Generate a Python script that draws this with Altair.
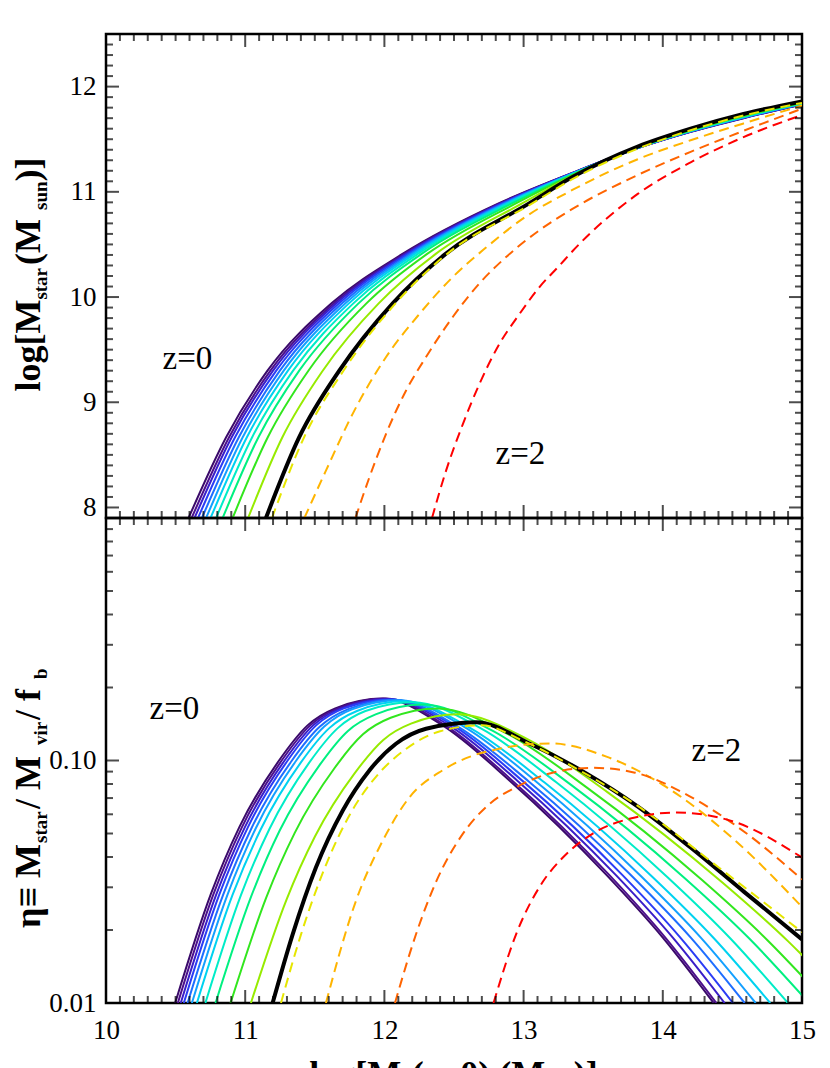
import altair as alt
import pandas as pd

FONT = "Liberation Serif, Times New Roman, serif"

# ---------------- series names / colours (rainbow tracks, black reference, dashed high-z tracks)
SOLID_NAMES = ["s00", "s01", "s02", "s03", "s04", "s05", "s06", "s07", "s08", "s09", "s10"]
SOLID_COLORS = ["#3a0a6a", "#4c0f8c", "#3a1ec8", "#2b3cf5", "#1e6eff", "#14a0ff",
                "#00d2f0", "#00ecc8", "#00f080", "#32e61e", "#96eb00"]
DASHED_NAMES = ["d1", "d2", "d3", "d4"]
DASHED_COLORS = ["#e6e600", "#ffb400", "#ff6400", "#ff0000"]

# ---------------- upper panel: log M_star vs log M_h(z=0)
TOP_LEVELS_Y = [7.9, 8.67, 9.3, 9.94, 10.41, 10.89]
TOP_SOLID_X_AT_LEVELS = [
    [10.593, 10.864, 11.160, 11.620, 12.130, 12.820],
    [10.615, 10.885, 11.181, 11.638, 12.142, 12.829],
    [10.636, 10.904, 11.200, 11.654, 12.154, 12.837],
    [10.661, 10.928, 11.223, 11.674, 12.168, 12.847],
    [10.689, 10.955, 11.249, 11.696, 12.184, 12.858],
    [10.719, 10.983, 11.277, 11.720, 12.200, 12.870],
    [10.751, 11.013, 11.307, 11.745, 12.218, 12.882],
    [10.791, 11.051, 11.344, 11.777, 12.240, 12.898],
    [10.838, 11.096, 11.388, 11.814, 12.267, 12.917],
    [10.910, 11.163, 11.454, 11.871, 12.307, 12.945],
    [11.021, 11.268, 11.557, 11.959, 12.369, 12.989],
]
TOP_RIGHT_X = [13.35, 13.82, 14.2, 14.58, 15.0]
TOP_SOLID_Y_AT_RIGHT = [
    [11.180, 11.415, 11.570, 11.700, 11.830],
    [11.179, 11.416, 11.571, 11.702, 11.831],
    [11.177, 11.416, 11.572, 11.703, 11.832],
    [11.175, 11.417, 11.574, 11.705, 11.834],
    [11.174, 11.418, 11.575, 11.707, 11.835],
    [11.172, 11.418, 11.577, 11.709, 11.837],
    [11.169, 11.419, 11.579, 11.711, 11.839],
    [11.167, 11.420, 11.581, 11.714, 11.841],
    [11.164, 11.422, 11.583, 11.718, 11.843],
    [11.159, 11.424, 11.587, 11.723, 11.847],
    [11.152, 11.427, 11.593, 11.731, 11.853],
]
TOP_BLACK_X = [11.149, 11.389, 11.676, 12.06, 12.44, 13.04, 13.354, 13.82, 14.2, 14.58, 15.0]
TOP_BLACK_Y = [7.9, 8.67, 9.3, 9.94, 10.41, 10.89, 11.143, 11.43, 11.60, 11.74, 11.86]
TOP_DASHED_X = [
    [11.192, 11.424, 11.706, 12.08, 12.45, 13.05, 13.35, 13.82, 14.2, 14.58, 15.0],
    [11.425, 11.58, 11.772, 12.012, 12.252, 12.491, 12.73, 13.0, 13.354, 13.82, 14.2, 14.58, 15.0],
    [11.792, 11.892, 12.012, 12.155, 12.299, 12.491, 12.683, 12.874, 13.114, 13.354, 13.82, 14.2, 14.58, 15.0],
    [12.342, 12.443, 12.563, 12.683, 12.827, 12.971, 13.114, 13.258, 13.354, 13.82, 14.2, 14.58, 15.0],
]
TOP_DASHED_Y = [
    [7.9, 8.67, 9.3, 9.94, 10.41, 10.88, 11.12, 11.41, 11.585, 11.725, 11.845],
    [7.9, 8.35, 8.89, 9.43, 9.84, 10.19, 10.47, 10.75, 11.02, 11.31, 11.49, 11.65, 11.82],
    [7.9, 8.286, 8.70, 9.11, 9.43, 9.81, 10.13, 10.38, 10.635, 10.84, 11.16, 11.38, 11.58, 11.79],
    [7.9, 8.35, 8.79, 9.175, 9.556, 9.84, 10.095, 10.30, 10.44, 10.98, 11.28, 11.52, 11.73],
]

# ---------------- lower panel: eta = M_star / M_vir / f_b
BOT_SOLID_X = [
    [10.497, 10.753, 10.957, 11.243, 11.448, 11.647, 11.99, 12.418, 12.90, 13.60, 14.0, 14.365],
    [10.516, 10.772, 10.976, 11.262, 11.467, 11.666, 12.01, 12.437, 12.919, 13.620, 14.018, 14.384],
    [10.537, 10.793, 10.997, 11.283, 11.488, 11.687, 12.03, 12.465, 12.955, 13.667, 14.072, 14.444],
    [10.559, 10.815, 11.019, 11.305, 11.510, 11.709, 12.05, 12.492, 12.990, 13.714, 14.126, 14.504],
    [10.586, 10.842, 11.046, 11.332, 11.537, 11.736, 12.075, 12.527, 13.037, 13.779, 14.201, 14.588],
    [10.617, 10.873, 11.077, 11.363, 11.568, 11.767, 12.11, 12.570, 13.089, 13.844, 14.273, 14.667],
    [10.653, 10.909, 11.113, 11.399, 11.604, 11.803, 12.145, 12.618, 13.151, 13.926, 14.367, 14.772],
    [10.714, 10.970, 11.174, 11.460, 11.665, 11.864, 12.205, 12.690, 13.237, 14.032, 14.484, 14.899],
    [10.787, 11.043, 11.247, 11.533, 11.738, 11.937, 12.28, 12.779, 13.341, 14.158, 14.623, 15.05],
    [10.895, 11.151, 11.355, 11.641, 11.846, 12.045, 12.385, 12.888, 13.455, 14.280, 14.750, 15.18],
    [11.041, 11.297, 11.501, 11.787, 11.992, 12.191, 12.53, 13.034, 13.602, 14.428, 14.899, 15.33],
]
BOT_SOLID_ETA = [
    [0.01, 0.0281, 0.053, 0.1, 0.1396, 0.1641, 0.180, 0.1396, 0.0826, 0.0335, 0.0186, 0.01],
    [0.01, 0.0281, 0.053, 0.1, 0.1396, 0.1641, 0.180, 0.1396, 0.0826, 0.0335, 0.0186, 0.01],
    [0.01, 0.0281, 0.053, 0.1, 0.1396, 0.1641, 0.1795, 0.1396, 0.0826, 0.0335, 0.0186, 0.01],
    [0.01, 0.0281, 0.053, 0.1, 0.1396, 0.1641, 0.1786, 0.1396, 0.0826, 0.0335, 0.0186, 0.01],
    [0.01, 0.028, 0.0527, 0.0993, 0.138, 0.1625, 0.178, 0.138, 0.082, 0.0333, 0.0186, 0.01],
    [0.01, 0.028, 0.0527, 0.0993, 0.138, 0.1625, 0.177, 0.138, 0.082, 0.0333, 0.0186, 0.01],
    [0.01, 0.0279, 0.0522, 0.098, 0.136, 0.160, 0.1755, 0.136, 0.0811, 0.0331, 0.0185, 0.01],
    [0.01, 0.0279, 0.0522, 0.098, 0.136, 0.160, 0.174, 0.136, 0.0811, 0.0331, 0.0185, 0.01],
    [0.01, 0.0275, 0.0513, 0.0955, 0.1324, 0.1549, 0.170, 0.1324, 0.0793, 0.0327, 0.0184, 0.01],
    [0.01, 0.0272, 0.0502, 0.0929, 0.1282, 0.150, 0.164, 0.1285, 0.0773, 0.0322, 0.0182, 0.01],
    [0.01, 0.0267, 0.0486, 0.0887, 0.1216, 0.1419, 0.155, 0.1219, 0.0741, 0.0314, 0.0180, 0.01],
]
BOT_BLACK_X = [11.197, 11.341, 11.508, 11.700, 11.892, 12.083, 12.299, 12.659, 13.061, 13.441, 13.821, 14.202, 14.582, 15.0]
BOT_BLACK_ETA = [0.01, 0.0192, 0.0362, 0.0621, 0.091, 0.1172, 0.1352, 0.1439, 0.1161, 0.0891, 0.0646, 0.0437, 0.0288, 0.0183]
BOT_DASHED_X = [
    [11.257, 11.40, 11.57, 11.76, 11.95, 12.15, 12.40, 12.70, 13.0, 13.4, 13.8, 14.4, 15.0],
    [11.58, 11.796, 11.988, 12.18, 12.419, 12.611, 12.802, 13.0, 13.2, 13.6, 14.0, 14.5, 15.0],
    [12.076, 12.227, 12.371, 12.563, 12.755, 12.946, 13.138, 13.282, 13.5, 13.8, 14.2, 14.6, 15.0],
    [12.784, 12.946, 13.138, 13.282, 13.5, 13.8, 14.1, 14.5, 15.0],
]
BOT_DASHED_ETA = [
    [0.01, 0.0191, 0.0359, 0.061, 0.0871, 0.111, 0.132, 0.1396, 0.1202, 0.0912, 0.0661, 0.0363, 0.0196],
    [0.01, 0.0264, 0.0467, 0.0705, 0.0912, 0.1035, 0.111, 0.116, 0.1175, 0.1035, 0.0794, 0.0479, 0.0249],
    [0.01, 0.0192, 0.0316, 0.0498, 0.0662, 0.0776, 0.0867, 0.091, 0.0933, 0.0891, 0.0708, 0.0501, 0.0323],
    [0.01, 0.0192, 0.0316, 0.0398, 0.0501, 0.0582, 0.061, 0.0562, 0.0398],
]

# ---------------- axis tick positions
X_MAJOR = [10, 11, 12, 13, 14, 15]
X_MINOR = [round(10 + i / 10, 1) for i in range(1, 50) if i % 10]
TOP_Y_MAJOR = [8, 9, 10, 11, 12]
TOP_Y_MINOR = [round(7.9 + i / 10, 1) for i in range(1, 46) if (79 + i) % 10]
BOT_Y_MAJOR = [0.01, 0.1]
BOT_Y_MINOR = [0.02, 0.03, 0.04, 0.05, 0.06, 0.07, 0.08, 0.09, 0.2, 0.3, 0.4, 0.5, 0.6, 0.7, 0.8, 0.9]

W, H_TOP, H_BOT = 696, 484, 485
MAJ, MIN = 26, 14   # tick mark sizes (half is visible inside the frame)


def long_rows(names, xs_list, ys_list):
    rows = []
    for n, xs, ys in zip(names, xs_list, ys_list):
        for x, y in zip(xs, ys):
            rows.append({"s": n, "x": x, "y": y})
    return pd.DataFrame(rows)


top_solid_x = [xs + TOP_RIGHT_X for xs in TOP_SOLID_X_AT_LEVELS]
top_solid_y = [TOP_LEVELS_Y + ys for ys in TOP_SOLID_Y_AT_RIGHT]
top_solid = long_rows(SOLID_NAMES, top_solid_x, top_solid_y)
top_black = long_rows(["k"], [TOP_BLACK_X], [TOP_BLACK_Y])
top_dashed = long_rows(DASHED_NAMES, TOP_DASHED_X, TOP_DASHED_Y)

bot_solid = long_rows(SOLID_NAMES, BOT_SOLID_X, BOT_SOLID_ETA)
bot_black = long_rows(["k"], [BOT_BLACK_X], [BOT_BLACK_ETA])
bot_dashed = long_rows(DASHED_NAMES, BOT_DASHED_X, BOT_DASHED_ETA)

ONE = pd.DataFrame({"k": [0]})


def text(px, py, s, size, bold=False, angle=0):
    kw = dict(font=FONT, fontSize=size, color="black", align="left", baseline="alphabetic")
    if bold:
        kw["fontWeight"] = "bold"
    if angle:
        kw["angle"] = angle
    return alt.Chart(ONE).mark_text(**kw).encode(
        x=alt.value(px), y=alt.value(py), text=alt.value(s))


def panel(solid, black, dashed, xscale, yscale, xaxis, yaxis, h, ymaj, ymin, texts):
    X = alt.X("x:Q", scale=xscale, axis=xaxis)
    Y = alt.Y("y:Q", scale=yscale, axis=yaxis)
    l_solid = alt.Chart(solid).mark_line(clip=True, strokeWidth=2, interpolate="monotone").encode(
        x=X, y=Y,
        color=alt.Color("s:N", scale=alt.Scale(domain=SOLID_NAMES, range=SOLID_COLORS), legend=None))
    l_black = alt.Chart(black).mark_line(clip=True, strokeWidth=4, color="black",
                                         interpolate="monotone").encode(x=X, y=Y)
    l_dash = alt.Chart(dashed).mark_line(clip=True, strokeWidth=2, strokeDash=[10, 6],
                                         interpolate="monotone").encode(
        x=X, y=Y,
        color=alt.Color("s:N", scale=alt.Scale(domain=DASHED_NAMES, range=DASHED_COLORS), legend=None))

    xt = pd.DataFrame({"v": X_MAJOR + X_MINOR, "len": [MAJ] * len(X_MAJOR) + [MIN] * len(X_MINOR)})
    yt = pd.DataFrame({"v": ymaj + ymin, "len": [MAJ] * len(ymaj) + [MIN] * len(ymin)})
    XT = alt.X("v:Q", scale=xscale, axis=xaxis)
    YT = alt.Y("v:Q", scale=yscale, axis=yaxis)
    size = alt.Size("len:Q", scale=None)
    tick_kw = dict(color="black", thickness=2, clip=True)
    t_top = alt.Chart(xt).mark_tick(orient="vertical", **tick_kw).encode(x=XT, y=alt.value(0), size=size)
    t_bot = alt.Chart(xt).mark_tick(orient="vertical", **tick_kw).encode(x=XT, y=alt.value(h), size=size)
    t_left = alt.Chart(yt).mark_tick(orient="horizontal", **tick_kw).encode(y=YT, x=alt.value(0), size=size)
    t_right = alt.Chart(yt).mark_tick(orient="horizontal", **tick_kw).encode(y=YT, x=alt.value(W), size=size)

    layers = [l_solid, l_black, l_dash, t_top, t_bot, t_left, t_right] + texts
    return alt.layer(*layers).resolve_scale(color="independent").properties(width=W, height=h)


xscale = alt.Scale(domain=[10, 15], nice=False, zero=False)
top_y = alt.Scale(domain=[7.9, 12.5], nice=False, zero=False)
bot_y = alt.Scale(type="log", domain=[0.01, 1.0], nice=False)

top_texts = [
    text(56.5, 335, "z=0", 33),
    text(389.5, 430, "z=2", 33),
    # rotated y title: log[M_star (M_sun)]
    text(-66.5, 357.6, "log[M", 36, True, 270),
    text(-59.0, 265.6, "star", 19, True, 270),
    text(-66.5, 231.0, "\u00a0(M", 36, True, 270),
    text(-59.0, 176.0, "sun", 19, True, 270),
    text(-66.5, 147.5, ")]", 36, True, 270),
]
bot_texts = [
    text(43.5, 201, "z=0", 33),
    text(585.5, 243, "z=2", 33),
    # rotated y title: eta = M_star / M_vir / f_b
    text(-66.5, 410, "\u03b7\u2261\u00a0M", 36, True, 270),
    text(-59.0, 325, "star", 19, True, 270),
    text(-66.5, 291, "\u00a0/\u00a0M", 36, True, 270),
    text(-59.0, 227, "vir", 19, True, 270),
    text(-66.5, 202, "\u00a0/\u00a0f", 36, True, 270),
    text(-59.0, 161, "b", 19, True, 270),
    # x title (mostly below the visible page, as in the reference)
    text(203.2, 568, "log[M", 36, True),
    text(295.2, 576, "h", 19, True),
    text(305.8, 568, "(z=0)\u00a0(M", 36, True),
    text(439.3, 576, "sun", 19, True),
    text(467.8, 568, ")]", 36, True),
]

top = panel(top_solid, top_black, top_dashed, xscale, top_y, None,
            alt.Axis(values=TOP_Y_MAJOR, labelPadding=10, labelFlush=False, title=None),
            H_TOP, TOP_Y_MAJOR, TOP_Y_MINOR, top_texts)
bottom = panel(bot_solid, bot_black, bot_dashed, xscale, bot_y,
               alt.Axis(values=X_MAJOR, format="d", labelPadding=14, labelFlush=False, title=None),
               alt.Axis(values=BOT_Y_MAJOR, format=".2f", labelPadding=10, labelFlush=False, title=None),
               H_BOT, BOT_Y_MAJOR, BOT_Y_MINOR, bot_texts)

chart = alt.vconcat(top, bottom, spacing=0, bounds="flush").configure_view(
    stroke="black", strokeWidth=2.5
).configure_axis(
    labelFont=FONT, labelFontSize=27, labelColor="black", ticks=False, tickSize=0,
    domain=False, grid=False, labelFlush=False
).properties(
    padding={"left": 1, "top": 24, "right": 0, "bottom": 0}, background="white"
)

chart.save("out.html", embed_options={"renderer": "svg", "actions": False})
